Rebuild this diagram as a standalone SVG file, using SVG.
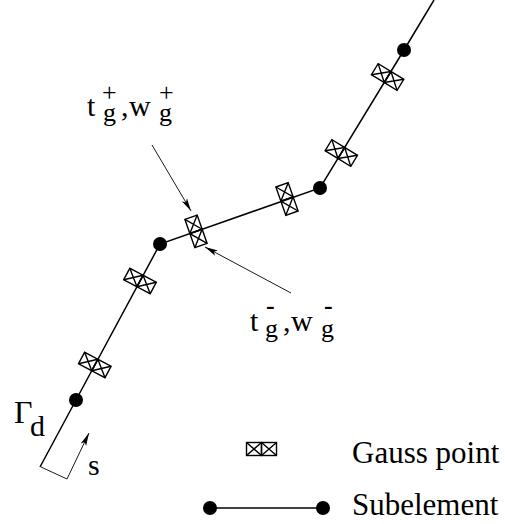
<svg xmlns="http://www.w3.org/2000/svg" width="505" height="524" viewBox="0 0 505 524">
<style>
.ln{fill:none;stroke:#000;stroke-width:1.5}
.thin{fill:none;stroke:#000;stroke-width:0.9}
.dot{fill:#000}
.bx{fill:none;stroke:#000;stroke-width:1.4}
.t{font-family:"Liberation Serif","Times New Roman",serif;font-size:30px;fill:#000}
.s{font-size:26px}
.m{font-size:26px;font-weight:bold}
</style>
<defs>
<marker id="ah" markerUnits="userSpaceOnUse" markerWidth="14" markerHeight="8" refX="13" refY="4" orient="auto">
<path d="M0,1 L13,4 L0,7 L3,4 Z" fill="#000"/>
</marker>
<g id="gp">
<rect class="bx" x="-15" y="-6.5" width="15" height="13"/>
<path class="bx" d="M-15,-6.5 L0,6.5 M-15,6.5 L0,-6.5"/>
<rect class="bx" x="0" y="-6.5" width="15" height="13"/>
<path class="bx" d="M0,-6.5 L15,6.5 M0,6.5 L15,-6.5"/>
</g>
</defs>
<rect width="505" height="524" fill="#fff"/>
<g id="connectors">
<polyline class="ln" points="40,467 76,400 160,244 320,188 404,50 434,0"/>
<line class="thin" x1="152" y1="145" x2="191" y2="211" marker-end="url(#ah)"/>
<line class="thin" x1="291" y1="293" x2="205" y2="247" marker-end="url(#ah)"/>
<polyline class="thin" points="41,467 67,479"/>
<line class="thin" x1="67" y1="479" x2="89" y2="433" marker-end="url(#ah)"/>
<line class="ln" x1="210" y1="508" x2="323" y2="508"/>
</g>
<g id="subelement-nodes">
<circle class="dot" cx="76" cy="400" r="7"/>
<circle class="dot" cx="160" cy="244" r="7"/>
<circle class="dot" cx="320" cy="188" r="7"/>
<circle class="dot" cx="404" cy="50" r="7"/>
</g>
<g id="gauss-points">
<use href="#gp" transform="translate(94.8,365) rotate(28)"/>
<use href="#gp" transform="translate(140,281) rotate(28)"/>
<use href="#gp" transform="translate(196,231.4) rotate(70.7)"/>
<use href="#gp" transform="translate(287,199) rotate(70.7)"/>
<use href="#gp" transform="translate(341.3,153) rotate(31.3)"/>
<use href="#gp" transform="translate(387.6,77) rotate(31.3)"/>
</g>
<g id="label-plus">
<text class="t"><tspan x="87" y="116">t</tspan><tspan class="s" x="102" y="101">+</tspan><tspan class="s" x="103" y="121">g</tspan><tspan x="121" y="116">,</tspan><tspan x="129" y="116">w</tspan><tspan class="s" x="159" y="101">+</tspan><tspan class="s" x="159" y="121">g</tspan></text>
</g>
<g id="label-minus">
<text class="t"><tspan x="250" y="331">t</tspan><tspan class="m" x="266" y="314">-</tspan><tspan class="s" x="265" y="337">g</tspan><tspan x="283" y="331">,</tspan><tspan x="291" y="331">w</tspan><tspan class="m" x="324" y="314">-</tspan><tspan class="s" x="321" y="337">g</tspan></text>
</g>
<g id="label-gamma">
<text class="t"><tspan x="14" y="423" style="font-size:32px">Γ</tspan><tspan x="30" y="436">d</tspan></text>
</g>
<g id="label-s"><text class="t" x="88" y="475">s</text></g>
<g id="legend">
<g id="legend-gauss"><use href="#gp" transform="translate(261.5,449)"/><text class="t" style="font-size:31px" x="352" y="463">Gauss point</text></g>
<g id="legend-sub"><circle class="dot" cx="210" cy="508" r="7"/><circle class="dot" cx="323" cy="508" r="7"/><text class="t" style="font-size:31px" x="352" y="515">Subelement</text></g>
</g>
</svg>
